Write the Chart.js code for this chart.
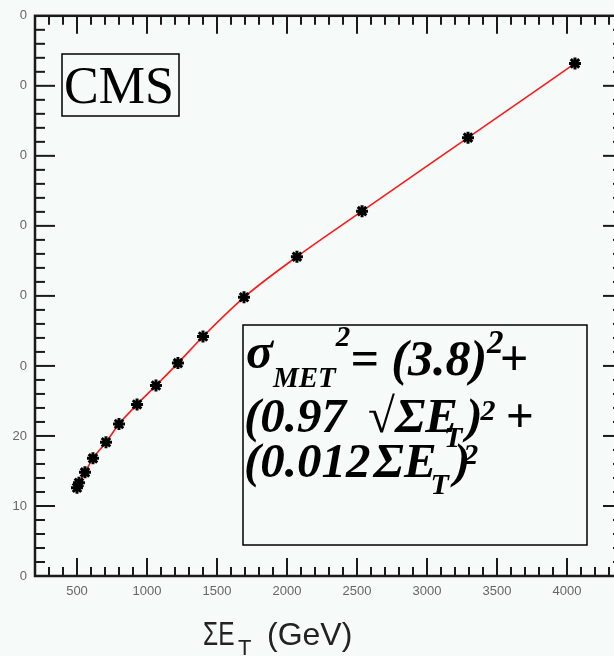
<!DOCTYPE html>
<html>
<head>
<meta charset="utf-8">
<script src="https://cdn.jsdelivr.net/npm/chart.js@4.4.0/dist/chart.umd.min.js"></script>
<style>
  html, body { margin: 0; padding: 0; background: #f6faf8; overflow: hidden; }
  #wrap { width: 614px; height: 656px; overflow: hidden; }
</style>
</head>
<body>
<div id="wrap"><canvas id="chart" width="640" height="656"></canvas></div>
<script>
// resolution vs total transverse energy
const sumEt = [500, 514, 557, 614, 707, 800, 929, 1064, 1221, 1400, 1693, 2071, 2536, 3293, 4057]
const sigmaMet = [12.6, 13.3, 14.8, 16.8, 19.1, 21.7, 24.5, 27.2, 30.4, 34.2, 39.8, 45.6, 52.1, 62.6, 73.2]

const xTickValues = [500, 1000, 1500, 2000, 2500, 3000, 3500, 4000]
const xTickLabels = ['500', '1000', '1500', '2000', '2500', '3000', '3500', '4000']
const yTickValues = [0, 10, 20, 30, 40, 50, 60, 70, 80]
const yTickLabels = ['0', '10', '20', '0', '0', '0', '0', '0', '0']

const points = sumEt.map((v, i) => ({ x: v, y: sigmaMet[i] }))

const BG = '#f6faf8'
const INK = '#1a1a1a'
const SERIF = '"Liberation Serif", serif'

function line(ctx, x1, y1, x2, y2) {
  ctx.beginPath()
  ctx.moveTo(x1, y1)
  ctx.lineTo(x2, y2)
  ctx.stroke()
}

// runs: [text, size, dy, dx, style] laid out left to right from (x, y)
function drawRun(ctx, x, y, runs) {
  runs.forEach(([t, size, dy = 0, dx = 0, style = 'italic bold']) => {
    ctx.font = style + ' ' + size + 'px ' + SERIF
    x += dx
    ctx.fillText(t, x, y + dy)
    x += ctx.measureText(t).width
  })
}

const frame = {
  id: 'frame',
  beforeDraw(chart) {
    const { ctx } = chart
    ctx.save()
    ctx.fillStyle = BG
    ctx.fillRect(0, 0, chart.width, chart.height)
    ctx.restore()
  },
  afterDraw(chart) {
    const { ctx, chartArea: a, scales: { x, y } } = chart
    ctx.save()
    ctx.strokeStyle = INK
    ctx.lineWidth = 2.5
    ctx.strokeRect(a.left, a.top, a.right - a.left, a.bottom - a.top)

    ctx.lineWidth = 2
    for (let v = 300; v < 4400; v += 100) {
      const px = x.getPixelForValue(v)
      const len = v % 500 === 0 ? 18 : 9
      line(ctx, px, a.bottom, px, a.bottom - len)
      line(ctx, px, a.top, px, a.top + len)
    }
    for (let v = 2; v < 80; v += 2) {
      const py = y.getPixelForValue(v)
      const len = v % 10 === 0 ? 20 : 10
      line(ctx, a.left, py, a.left + len, py)
      line(ctx, a.right, py, a.right - len, py)
    }

    // axis title, narrow sigma/E like the original plot font
    ctx.fillStyle = '#222'
    ctx.textBaseline = 'alphabetic'
    ctx.save()
    ctx.translate(203, 645)
    ctx.scale(0.72, 1)
    ctx.font = '34px "Liberation Sans", sans-serif'
    ctx.fillText('\u03a3E', 0, 0)
    ctx.restore()
    ctx.font = '22px "Liberation Sans", sans-serif'
    ctx.fillText('T', 238, 655)
    ctx.font = '32px "Liberation Sans", sans-serif'
    ctx.fillText('(GeV)', 267, 645)

    // CMS label
    ctx.strokeStyle = '#000'
    ctx.lineWidth = 1.5
    ctx.fillStyle = BG
    ctx.fillRect(62, 54, 117, 62)
    ctx.strokeRect(62, 54, 117, 62)
    ctx.fillStyle = '#000'
    ctx.font = '52px ' + SERIF
    ctx.fillText('CMS', 64, 103)

    // fit formula
    ctx.fillStyle = BG
    ctx.fillRect(243, 325, 344, 220)
    ctx.strokeRect(243, 325, 344, 220)
    ctx.fillStyle = '#000'
    drawRun(ctx, 246, 375, [
      ['\u03c3', 50, -7],
      ['MET', 29, 12],
      ['2', 29, -29],
      ['= (3.8)', 50],
      ['2', 33, -22],
      ['+', 50, 0, -4]
    ])
    drawRun(ctx, 244, 432, [
      ['(0.97', 49],
      ['\u221a', 49, 0, 22, 'bold'],
      ['\u03a3E', 49],
      ['T', 30, 15, -14],
      [')', 49, 0, 4],
      ['2', 30, -12, -2],
      ['+', 49, 0, 10]
    ])
    drawRun(ctx, 244, 477, [
      ['(0.012', 49],
      ['\u03a3E', 49, 0, 3],
      ['T', 30, 17, -6],
      [')', 49, 0, 5],
      ['2', 30, -13, -7]
    ])
    ctx.restore()
  }
}

new Chart(document.getElementById('chart'), {
  type: 'scatter',
  data: {
    datasets: [{
      data: points,
      showLine: false,
      pointStyle: 'star',
      pointRadius: 6,
      pointBorderWidth: 3,
      pointBorderColor: '#000',
      pointBackgroundColor: '#000'
    }, {
      data: points,
      showLine: true,
      borderColor: '#ff1a1a',
      borderWidth: 1.6,
      pointRadius: 0,
      cubicInterpolationMode: 'monotone'
    }]
  },
  options: {
    responsive: false,
    animation: false,
    devicePixelRatio: 1,
    layout: { padding: { top: 15, right: 17, left: 0, bottom: 0 } },
    plugins: { legend: { display: false }, tooltip: { enabled: false } },
    scales: {
      x: {
        type: 'linear',
        min: 200,
        max: 4400,
        afterBuildTicks: s => { s.ticks = xTickValues.map(v => ({ value: v })) },
        afterFit: s => { s.height = 80 },
        grid: { display: false, drawTicks: false },
        border: { display: false },
        ticks: {
          callback: (v, i) => xTickLabels[i],
          autoSkip: false,
          maxRotation: 0,
          padding: 8,
          color: '#666',
          font: { family: 'Liberation Sans', size: 13 }
        }
      },
      y: {
        min: 0,
        max: 80,
        afterBuildTicks: s => { s.ticks = yTickValues.map(v => ({ value: v })) },
        afterFit: s => { s.width = 35 },
        grid: { display: false, drawTicks: false },
        border: { display: false },
        ticks: {
          callback: (v, i) => yTickLabels[i],
          padding: 8,
          color: '#666',
          font: { family: 'Liberation Sans', size: 13 }
        }
      }
    }
  },
  plugins: [frame]
})
</script>
</body>
</html>
